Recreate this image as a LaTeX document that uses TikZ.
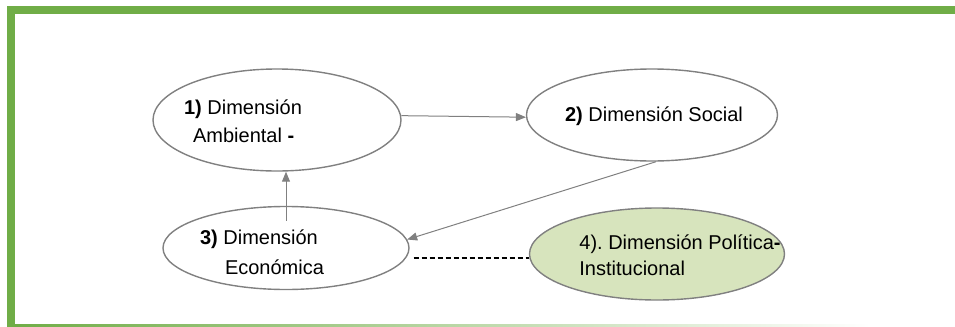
\documentclass[tikz,border=0pt]{standalone}
\usepackage{fontspec}
\setmainfont{Liberation Sans}
\usetikzlibrary{shapes.geometric,arrows.meta}
\definecolor{framegreen}{HTML}{70AD47}
\definecolor{linegray}{HTML}{808080}
\definecolor{polfill}{HTML}{D7E4BD}
\begin{document}
\begin{tikzpicture}
    [x=0.5pt,y=-0.5pt,
    dim/.style={ellipse,draw=linegray,line width=0.7pt,inner sep=0pt},
    lbl/.style={font=\fontsize{10}{14}\selectfont,inner sep=0pt},
    flow/.style={draw=linegray,line width=0.5pt,-{Triangle[length=5pt,width=4pt]}},
    link/.style={draw=black,line width=0.6pt,dash pattern=on 2.5pt off 1.5pt}]
    \useasboundingbox (0,0) rectangle (955,327);
    \fill[framegreen] (7,6) rectangle (15,327);
    \fill[framegreen] (15,6) rectangle (955,14);
    \shade[left color=framegreen,right color=white] (15,324) rectangle (870,326);
    \node[dim,minimum width=124pt,minimum height=51pt] (amb) at (277,120) {};
    \node[dim,minimum width=125.5pt,minimum height=46pt] (soc) at (652,115) {};
    \node[dim,minimum width=123pt,minimum height=41.5pt] (eco) at (286,248) {};
    \node[dim,fill=polfill,minimum width=127.5pt,minimum height=46pt] (pol) at (657,254) {};
    \node[lbl,align=left] (amblbl) at (243,121) {\textbf{1)} Dimensión\\\hspace*{4.5pt}Ambiental \textbf{-}};
    \node[lbl] (soclbl) at (654,116) {\textbf{2)} Dimensión Social};
    \node[lbl,align=left,font=\fontsize{10}{15}\selectfont] (ecolbl) at (262,252) {\textbf{3)} Dimensión\\\hspace*{12.5pt}Económica};
    \node[lbl,align=left,font=\fontsize{10}{13}\selectfont] (pollbl) at (680,255) {4).\ Dimensión Política\textbf{-}\\Institucional};
    \draw[flow] (amb.2) -- (soc.181);
    \draw[flow] (soc.-85) -- (eco.4);
    \draw[flow] ([yshift=-7.5pt]eco.north) -- (amb.south -| eco.north);
    \draw[link] ([shift={(2pt,-5pt)}]eco.east) -- ([yshift=-2pt]pol.west);
\end{tikzpicture}
\end{document}
